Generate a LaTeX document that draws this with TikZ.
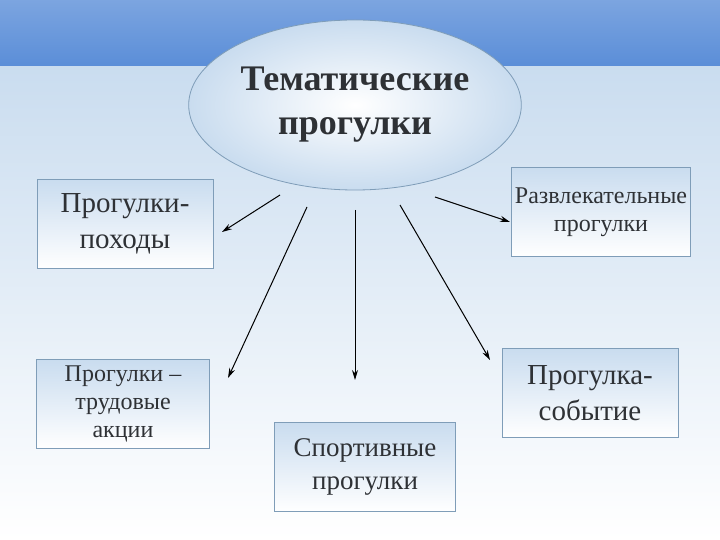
\documentclass[tikz,border=0pt]{standalone}
\usepackage{fontspec}
\setmainfont{Liberation Serif}
\usetikzlibrary{arrows.meta,shapes.geometric}
\definecolor{txt}{HTML}{2E3135}
\definecolor{bord}{HTML}{7F9DB8}
\definecolor{pale}{HTML}{C9DCEF}
\definecolor{band}{HTML}{5B8ED8}
\tikzset{
 box/.style={draw=bord,line width=0.8pt,minimum width=176pt,minimum height=89pt,top color=pale,bottom color=white,text=txt,align=center,font=\fontsize{24}{28}\selectfont},
 arr/.style={-{Stealth[length=10pt,width=6pt]},line width=1pt,black}
}
\begin{document}
\begin{tikzpicture}[x=1pt,y=-1pt]
\useasboundingbox (0,0) rectangle (720,540);
\shade[top color=pale,bottom color=white] (0,60) rectangle (720,540);
\shade[top color=band!80!white,bottom color=band] (0,0) rectangle (720,66);
\node[ellipse,draw=bord,line width=0.8pt,inner color=white,outer color=pale,minimum width=274pt,minimum height=170pt,text=txt,align=center,font=\bfseries\fontsize{36}{44}\selectfont] (e) at (355,105) {Тематические\\прогулки};
\node[box,font=\fontsize{29}{36}\selectfont] (a) at (125,224) {Прогулки-\\походы};
\node[box] (b) at (601,212) {Развлекательные\\прогулки};
\node[box,minimum width=173pt] (c) at (123,404) {Прогулки –\\трудовые\\акции};
\node[box,font=\fontsize{29}{36}\selectfont] (d) at (590,393) {Прогулка-\\событие};
\node[box,minimum width=181pt,font=\fontsize{27}{33}\selectfont] (s) at (365,467) {Спортивные\\прогулки};
\coordinate (e1) at (280,195); \coordinate (e2) at (307,207); \coordinate (e3) at (355,210);
\coordinate (e4) at (400,205); \coordinate (e5) at (435,197);
\draw[arr] (e1) -- (222,232);
\draw[arr] (e2) -- (228,378);
\draw[arr] (e3) -- (355,380);
\draw[arr] (e4) -- (490,360);
\draw[arr] (e5) -- (510,222);
\end{tikzpicture}
\end{document}
